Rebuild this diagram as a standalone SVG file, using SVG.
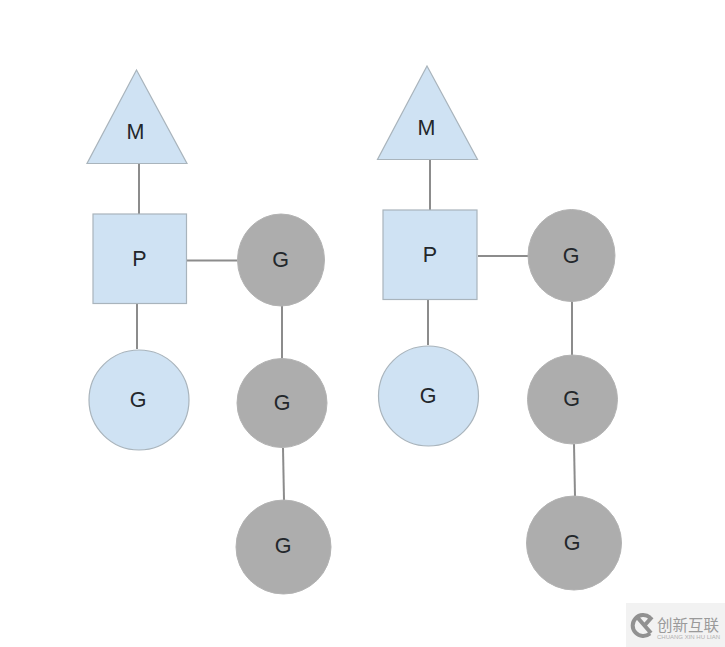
<svg xmlns="http://www.w3.org/2000/svg" width="725" height="647" viewBox="0 0 725 647">
<style>
.b{fill:#cfe2f3;stroke:#a9b4bc;stroke-width:1.2}
.g{fill:#adadad;stroke:#b3b3b3;stroke-width:1}
.l{fill:#23272b;font-family:"Liberation Sans",Arial,sans-serif;font-size:21.500px;text-anchor:middle}
#connectors line{stroke:#8c8c8c;stroke-width:2}
</style>
<rect width="725" height="647" fill="#fff"/>
<g id="connectors">
<line x1="139" y1="163" x2="139" y2="214"/>
<line x1="187" y1="260.500" x2="238" y2="260.500"/>
<line x1="137" y1="304" x2="137" y2="349"/>
<line x1="282" y1="305" x2="282" y2="359"/>
<line x1="283" y1="448" x2="284" y2="500"/>
<line x1="430" y1="159" x2="430" y2="210"/>
<line x1="478" y1="256" x2="529" y2="256"/>
<line x1="428" y1="300" x2="428" y2="345"/>
<line x1="572" y1="301" x2="572" y2="355"/>
<line x1="574" y1="444" x2="575" y2="496"/>
</g>
<g id="m1"><polygon class="b" points="136.500,70 187,163.500 87,163.500"/><text class="l" x="135.500" y="139">M</text></g>
<g id="p1"><rect class="b" x="93" y="214" width="93.500" height="89.500"/><text class="l" x="139.500" y="266">P</text></g>
<g id="g1"><circle class="b" cx="139" cy="400" r="50"/><text class="l" x="138" y="407">G</text></g>
<g id="g2"><ellipse class="g" cx="281" cy="260" rx="43.500" ry="46"/><text class="l" x="280.500" y="267">G</text></g>
<g id="g3"><ellipse class="g" cx="282" cy="403" rx="45" ry="44.500"/><text class="l" x="282" y="410">G</text></g>
<g id="g4"><ellipse class="g" cx="283.500" cy="547" rx="47.500" ry="47"/><text class="l" x="283" y="553">G</text></g>
<g id="m2"><polygon class="b" points="427,66 477.500,159.500 377.500,159.500"/><text class="l" x="426.500" y="135">M</text></g>
<g id="p2"><rect class="b" x="383" y="210" width="94" height="89.500"/><text class="l" x="430" y="262">P</text></g>
<g id="g5"><circle class="b" cx="428.500" cy="396" r="50"/><text class="l" x="428" y="403">G</text></g>
<g id="g6"><ellipse class="g" cx="571.500" cy="255.500" rx="43.500" ry="46"/><text class="l" x="571" y="263">G</text></g>
<g id="g7"><ellipse class="g" cx="572.500" cy="399.500" rx="45" ry="44.500"/><text class="l" x="571.500" y="406">G</text></g>
<g id="g8"><ellipse class="g" cx="574" cy="543" rx="47.500" ry="47"/><text class="l" x="572" y="550">G</text></g>
<g id="watermark">
<rect x="626" y="603" width="99" height="44" fill="#f2f2f2"/>
<path d="M650 617.500A10.500 10.500 0 1 0 650 633.500M637 617L651 633M652 617L644 626" fill="none" stroke="#919191" stroke-width="4"/>
<text x="657" y="631" font-family="'Noto Sans CJK SC',sans-serif" font-size="15.500" fill="#9a9a9a">创新互联</text>
<text x="657" y="638.500" font-family="'Liberation Sans',Arial,sans-serif" font-size="6" fill="#b0b0b0">CHUANG XIN HU LIAN</text>
</g>
</svg>
